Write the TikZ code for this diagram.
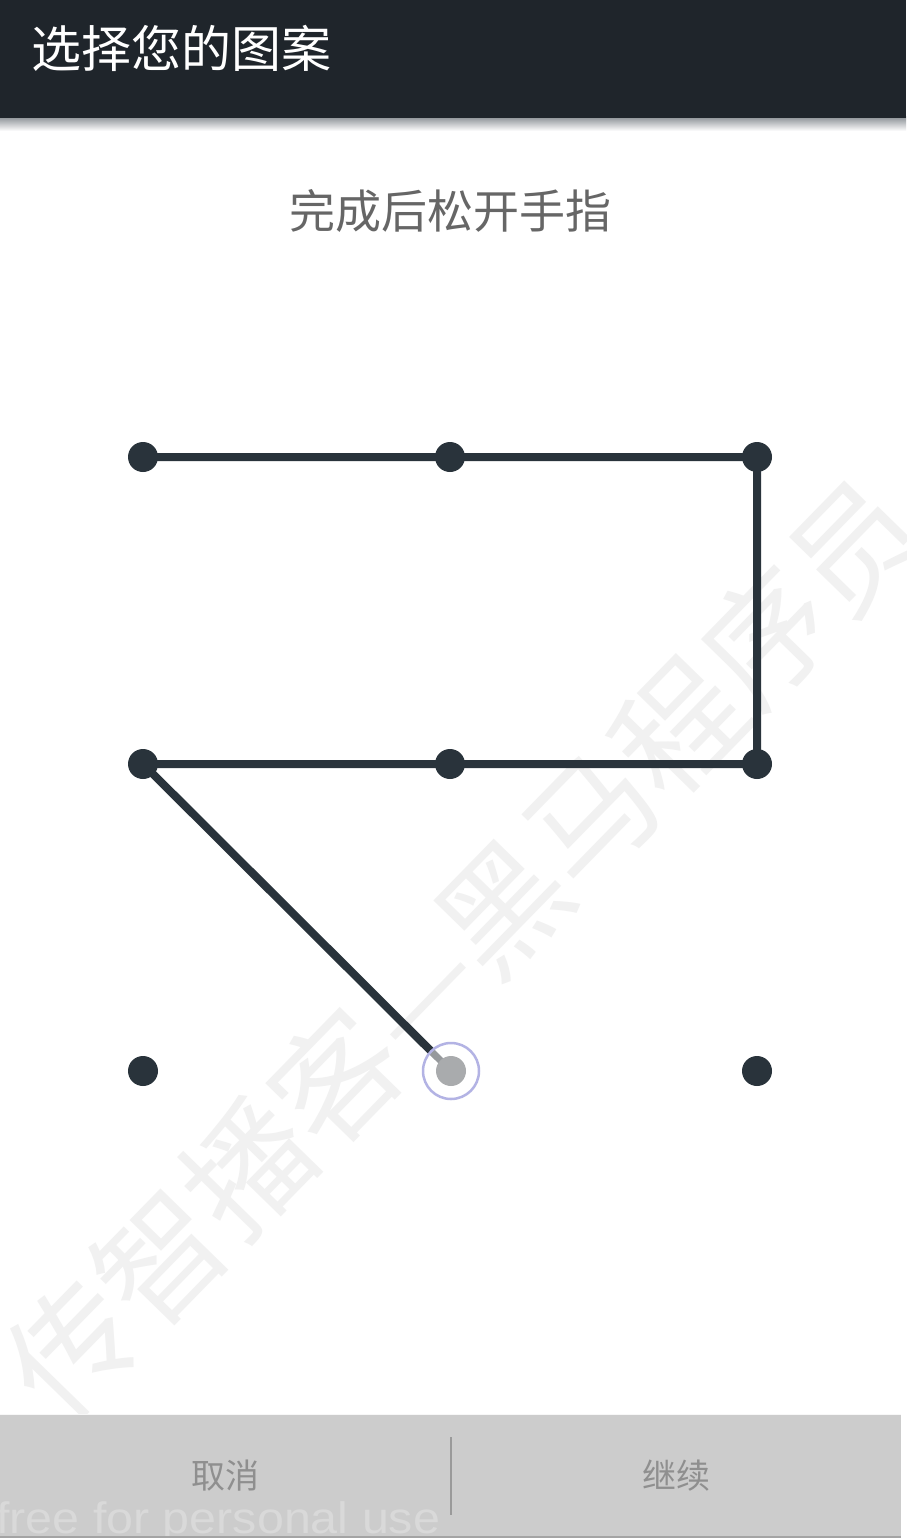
\documentclass[tikz,border=0pt]{standalone}
\usepackage{fontspec}
\setmainfont{Liberation Sans}
\newfontfamily\cjk{Noto Sans CJK SC}
\usetikzlibrary{calc}
\definecolor{barc}{HTML}{1F252B}
\definecolor{shadowc}{HTML}{8E9398}
\definecolor{dotc}{HTML}{29333B}
\definecolor{subc}{HTML}{666666}
\definecolor{btnc}{HTML}{CCCCCC}
\definecolor{btntext}{HTML}{8F8F8F}
\definecolor{divc}{HTML}{9A9A9A}
\definecolor{wmc}{HTML}{F1F1F1}
\definecolor{selc}{HTML}{A9ABAD}
\definecolor{ringc}{HTML}{B3B3E4}
\definecolor{freec}{HTML}{D9D9D9}
\begin{document}
\begin{tikzpicture}[x=1pt,y=-1pt,
  dot/.style={circle,fill=dotc,inner sep=0pt,minimum size=30pt},
  link/.style={line width=8pt,draw=dotc},
  btnlabel/.style={text=btntext,inner sep=0pt,font=\cjk\fontsize{34}{34}\selectfont}]
\useasboundingbox (0,0) rectangle (906,1538);
\fill[white] (0,0) rectangle (906,1538);
% watermark
\node[rotate=45.7,text=wmc,inner sep=0pt,font=\cjk\fontsize{126}{126}\selectfont] (wm) at (463,947) {传智播客—黑马程序员};
% top bar
\shade[top color=shadowc,bottom color=white] (0,117) rectangle (906,131);
\fill[barc] (0,0) rectangle (906,118);
\node[anchor=west,text=white,inner sep=0pt,font=\cjk\fontsize{50}{50}\selectfont] (title) at (31,48) {选择您的图案};
\node[text=subc,inner sep=0pt,font=\cjk\fontsize{46}{46}\selectfont] (sub) at (450,211) {完成后松开手指};
% grid points
\coordinate (g11) at (143,457);
\coordinate (g12) at (450,457);
\coordinate (g13) at (757,457);
\coordinate (g21) at (143,764);
\coordinate (g22) at (450,764);
\coordinate (g23) at (757,764);
\coordinate (g31) at (143,1071);
\coordinate (g33) at (757,1071);
\coordinate (sel) at (451,1071);
\coordinate (selring) at ($(g21)!0.935!(sel)$);
% pattern
\draw[link,line join=miter] (g11) -- (g12) -- (g13) -- (g23) -- (g22) -- (g21) -- (selring);
\draw[line width=7pt,draw=selc!85!dotc] (selring) -- (sel);
\node[dot] (d11) at (g11) {};
\node[dot] (d12) at (g12) {};
\node[dot] (d13) at (g13) {};
\node[dot] (d21) at (g21) {};
\node[dot] (d22) at (g22) {};
\node[dot] (d23) at (g23) {};
\node[dot] (d31) at (g31) {};
\node[dot] (d33) at (g33) {};
\node[circle,fill=selc,inner sep=0pt,minimum size=30pt] (dsel) at (sel) {};
\node[circle,draw=ringc,line width=2.5pt,inner sep=0pt,minimum size=56pt] (ring) at (sel) {};
% bottom buttons
\fill[btnc] (0,1414) rectangle (901,1538);
\draw[white!85!btnc,line width=1pt] (0,1414.5) -- (901,1414.5);
\node[anchor=base west,text=freec,inner sep=0pt,xscale=1.1,font=\fontsize{44}{44}\selectfont] (free) at (-4,1533) {free for personal use};
\fill[divc!80!btnc] (0,1535.5) rectangle (901,1538);
\coordinate (divtop) at (451,1437);
\coordinate (divbot) at (451,1515);
\draw[divc,line width=1.5pt] (divtop) -- (divbot);
\node[btnlabel] (cancel) at (225,1476) {取消};
\node[btnlabel] (cont) at (676,1476) {继续};
\end{tikzpicture}
\end{document}
